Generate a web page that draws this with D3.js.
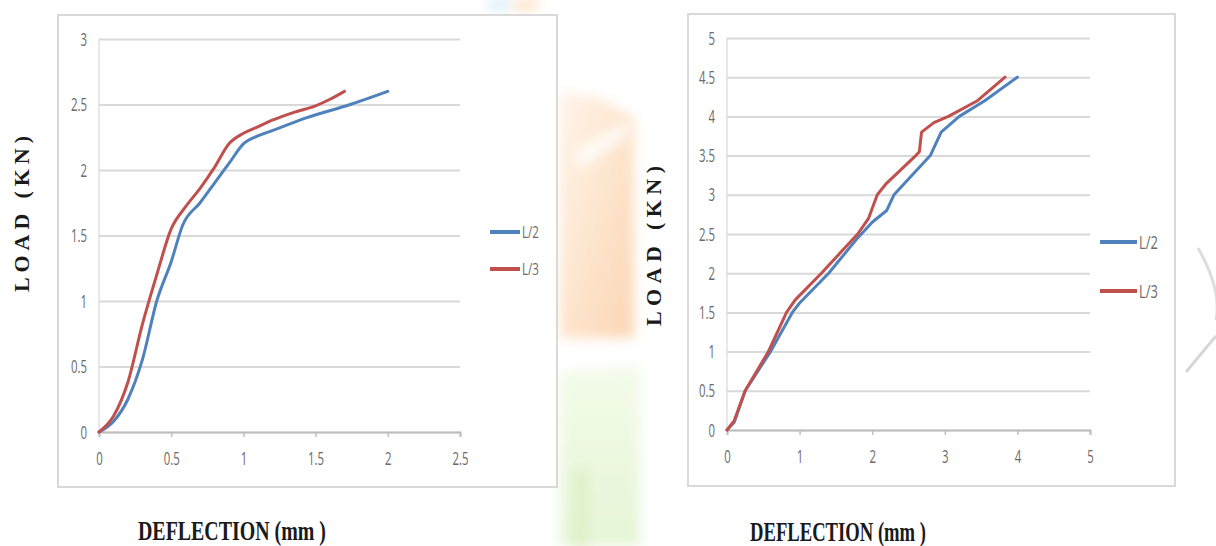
<!DOCTYPE html>
<html>
<head>
<meta charset="utf-8">
<script src="https://cdn.jsdelivr.net/npm/d3@7"></script>
<style>
  html, body { margin: 0; padding: 0; background: #ffffff; }
  svg { display: block; }
  .tick-label { font-family: "Open Sans", "Liberation Sans", sans-serif; fill: #6a6a6a; }
  .title { font-family: "Liberation Serif", "Times New Roman", serif; font-weight: bold; fill: #1a1a1a; }
</style>
</head>
<body>
<svg id="chart" width="1216" height="546"></svg>
<script>
// ---- Data: load (kN) against mid-span deflection (mm) ----
const seriesNames = ["L/2", "L/3"];
const seriesColors = ["#4f81bd", "#c0504d"];

// Left panel
const leftXTicks = [0, 0.5, 1, 1.5, 2, 2.5];
const leftYTicks = [0, 0.5, 1, 1.5, 2, 2.5, 3];
const leftDeflL2 = [0, 0.1, 0.2, 0.3, 0.4, 0.5, 0.58, 0.7, 0.8, 0.9, 1.0, 1.1, 1.2, 1.44, 1.74, 2.0];
const leftLoadL2 = [0, 0.08, 0.25, 0.55, 1.0, 1.3, 1.58, 1.75, 1.9, 2.05, 2.2, 2.26, 2.3, 2.4, 2.5, 2.6];
const leftDeflL3 = [0, 0.1, 0.2, 0.3, 0.4, 0.5, 0.6, 0.7, 0.8, 0.9, 1.0, 1.1, 1.2, 1.35, 1.5, 1.6, 1.7];
const leftLoadL3 = [0, 0.12, 0.38, 0.82, 1.2, 1.55, 1.72, 1.86, 2.02, 2.2, 2.28, 2.33, 2.38, 2.44, 2.49, 2.54, 2.6];

// Right panel
const rightXTicks = [0, 1, 2, 3, 4, 5];
const rightYTicks = [0, 0.5, 1, 1.5, 2, 2.5, 3, 3.5, 4, 4.5, 5];
const rightDeflL2 = [0, 0.1, 0.25, 0.6, 0.9, 1.0, 1.4, 1.8, 2.0, 2.2, 2.3, 2.8, 2.95, 3.2, 3.55, 4.0];
const rightLoadL2 = [0, 0.1, 0.5, 1.0, 1.5, 1.62, 2.0, 2.45, 2.65, 2.8, 3.0, 3.5, 3.8, 4.0, 4.2, 4.5];
const rightDeflL3 = [0, 0.1, 0.25, 0.57, 0.82, 0.94, 1.3, 1.8, 1.95, 2.07, 2.2, 2.6, 2.65, 2.68, 2.85, 3.05, 3.45, 3.83];
const rightLoadL3 = [0, 0.12, 0.5, 1.0, 1.5, 1.66, 2.0, 2.5, 2.7, 3.0, 3.15, 3.5, 3.55, 3.8, 3.92, 4.0, 4.2, 4.5];

const axisTitleX = "DEFLECTION (mm )";
const axisTitleY = "LOAD (KN)";

const svg = d3.select("#chart");

// squeeze a text element horizontally to a narrow face
function narrow(sel, factor) {
  sel.each(function () {
    const w = this.getComputedTextLength();
    if (w > 0) {
      d3.select(this).attr("textLength", w * factor).attr("lengthAdjust", "spacingAndGlyphs");
    }
  });
}

// ---- Soft background print behind the panels ----
const defs = svg.append("defs");
defs.append("filter").attr("id", "soft")
  .attr("x", "-50%").attr("y", "-50%").attr("width", "200%").attr("height", "200%")
  .append("feGaussianBlur").attr("stdDeviation", 6);
const orangeGrad = defs.append("linearGradient").attr("id", "orangeFade")
  .attr("x1", 0).attr("y1", 0).attr("x2", 1).attr("y2", 1);
orangeGrad.append("stop").attr("offset", "0%").attr("stop-color", "#fff4ea");
orangeGrad.append("stop").attr("offset", "60%").attr("stop-color", "#fde2c8");
orangeGrad.append("stop").attr("offset", "100%").attr("stop-color", "#fbd6b4");
const greenGrad = defs.append("linearGradient").attr("id", "greenFade")
  .attr("x1", 0).attr("y1", 0).attr("x2", 0).attr("y2", 1);
greenGrad.append("stop").attr("offset", "0%").attr("stop-color", "#f3fbe9");
greenGrad.append("stop").attr("offset", "100%").attr("stop-color", "#e6f5d6");

const bg = svg.append("g").attr("class", "backdrop");
bg.append("path").attr("d", "M560,92 L600,98 L634,118 L634,338 L560,338 Z")
  .attr("fill", "url(#orangeFade)").attr("filter", "url(#soft)");
bg.append("path").attr("d", "M575,150 L628,120 L628,135 L580,170 Z")
  .attr("fill", "#ffffff").attr("opacity", 0.8).attr("filter", "url(#soft)");
bg.append("path").attr("d", "M560,372 L640,366 L640,546 L560,546 Z")
  .attr("fill", "url(#greenFade)").attr("filter", "url(#soft)");
bg.append("rect").attr("x", 574).attr("y", 470).attr("width", 14).attr("height", 76)
  .attr("fill", "#dff0c8").attr("filter", "url(#soft)");
bg.append("path").attr("d", "M486,0 L512,0 L508,10 L490,10 Z")
  .attr("fill", "#d6ecfb").attr("filter", "url(#soft)");
bg.append("path").attr("d", "M512,0 L540,0 L536,10 L514,10 Z")
  .attr("fill", "#fde0c4").attr("filter", "url(#soft)");
bg.append("path").attr("d", "M1198,248 Q1222,290 1216,320")
  .attr("fill", "none").attr("stroke", "#cfcfcf").attr("stroke-width", 3).attr("opacity", 0.7);
bg.append("path").attr("d", "M1216,336 L1186,372")
  .attr("fill", "none").attr("stroke", "#c4c4c4").attr("stroke-width", 3).attr("opacity", 0.7);

// ---- Panel drawing ----
function drawPanel(p) {
  const g = svg.append("g");

  // outer chart-area border
  g.append("rect")
    .attr("x", p.frame.x).attr("y", p.frame.y)
    .attr("width", p.frame.w).attr("height", p.frame.h)
    .attr("fill", "#ffffff").attr("stroke", "#d9d9d9").attr("stroke-width", 2);

  const x = d3.scaleLinear().domain(p.xDomain).range([p.plot.left, p.plot.right]);
  const y = d3.scaleLinear().domain(p.yDomain).range([p.plot.bottom, p.plot.top]);

  // horizontal gridlines
  g.append("g").attr("transform", `translate(${p.plot.left},0)`)
    .call(d3.axisLeft(y).tickValues(p.yTicks).tickSize(-(p.plot.right - p.plot.left)).tickFormat(""))
    .call(a => a.select(".domain").remove())
    .call(a => a.selectAll("line").attr("stroke", "#d9d9d9").attr("stroke-width", 2));

  // vertical axis line
  g.append("line")
    .attr("x1", p.plot.left).attr("x2", p.plot.left)
    .attr("y1", p.plot.top).attr("y2", p.plot.bottom)
    .attr("stroke", "#d9d9d9").attr("stroke-width", 1.2);

  // y tick labels
  g.append("g").attr("transform", `translate(${p.plot.left},0)`)
    .call(d3.axisLeft(y).tickValues(p.yTicks).tickSize(0).tickPadding(12).tickFormat(d3.format("~g")))
    .call(a => a.select(".domain").remove())
    .call(a => a.selectAll("text").attr("class", "tick-label").style("font-size", "19px").attr("fill", null))
    .call(a => narrow(a.selectAll("text"), 0.6));

  // x axis with outward ticks
  g.append("g").attr("transform", `translate(0,${p.plot.bottom})`)
    .call(d3.axisBottom(x).tickValues(p.xTicks).tickSize(5).tickPadding(15).tickFormat(d3.format("~g")))
    .call(a => a.select(".domain").attr("stroke", "#bfbfbf").attr("stroke-width", 2))
    .call(a => a.selectAll("line").attr("stroke", "#bfbfbf").attr("stroke-width", 1.5))
    .call(a => a.selectAll("text").attr("class", "tick-label").style("font-size", "19px").attr("fill", null))
    .call(a => narrow(a.selectAll("text"), 0.6));

  // series lines
  const line = d3.line().x(d => x(d[0])).y(d => y(d[1])).curve(p.curve);
  p.series.forEach((s, i) => {
    const pts = d3.zip(s.defl, s.load);
    g.append("path").datum(pts)
      .attr("d", line)
      .attr("fill", "none")
      .attr("stroke", seriesColors[i])
      .attr("stroke-width", 3)
      .attr("stroke-linejoin", "round")
      .attr("stroke-linecap", "round");
  });

  // legend
  const lg = g.append("g");
  seriesNames.forEach((name, i) => {
    const ly = p.legend.y + i * p.legend.gap;
    lg.append("line")
      .attr("x1", p.legend.x).attr("x2", p.legend.x + p.legend.len)
      .attr("y1", ly).attr("y2", ly)
      .attr("stroke", seriesColors[i]).attr("stroke-width", 4);
    lg.append("text")
      .attr("class", "tick-label")
      .attr("x", p.legend.x + p.legend.len + 2).attr("y", ly)
      .attr("dy", "0.35em")
      .style("font-size", p.legend.font + "px")
      .text(name)
      .call(t => narrow(t, 0.68));
  });

  // axis titles
  g.append("text").attr("class", "title")
    .attr("x", p.xTitle.x).attr("y", p.xTitle.y)
    .attr("textLength", p.xTitle.len).attr("lengthAdjust", "spacingAndGlyphs")
    .style("font-size", "28px")
    .text(axisTitleX);

  g.append("text").attr("class", "title")
    .attr("transform", `translate(${p.yTitle.x},${p.yTitle.y}) rotate(-90)`)
    .attr("text-anchor", "middle")
    .attr("textLength", p.yTitle.len).attr("lengthAdjust", "spacing")
    .style("font-size", "22px")
    .text(axisTitleY);
}

drawPanel({
  frame: { x: 58, y: 15, w: 499, h: 472 },
  plot: { left: 99, right: 460, top: 39, bottom: 432 },
  xDomain: [0, 2.5], yDomain: [0, 3],
  xTicks: leftXTicks, yTicks: leftYTicks,
  curve: d3.curveMonotoneX,
  series: [
    { defl: leftDeflL2, load: leftLoadL2 },
    { defl: leftDeflL3, load: leftLoadL3 }
  ],
  legend: { x: 490, y: 232, gap: 37, len: 30, font: 17 },
  xTitle: { x: 138, y: 540, len: 188 },
  yTitle: { x: 29, y: 214, len: 156 }
});

drawPanel({
  frame: { x: 688, y: 14, w: 487, h: 472 },
  plot: { left: 727, right: 1090, top: 38, bottom: 430 },
  xDomain: [0, 5], yDomain: [0, 5],
  xTicks: rightXTicks, yTicks: rightYTicks,
  curve: d3.curveLinear,
  series: [
    { defl: rightDeflL2, load: rightLoadL2 },
    { defl: rightDeflL3, load: rightLoadL3 }
  ],
  legend: { x: 1100, y: 242, gap: 49, len: 37, font: 19 },
  xTitle: { x: 750, y: 541, len: 176 },
  yTitle: { x: 661, y: 246, len: 160 }
});
</script>
</body>
</html>
